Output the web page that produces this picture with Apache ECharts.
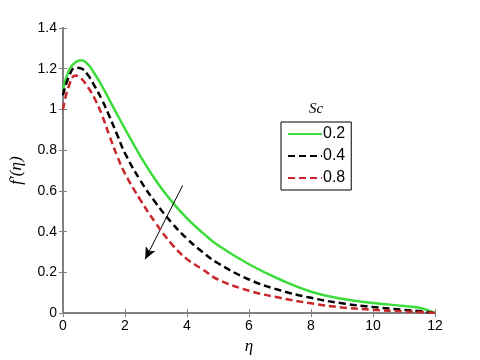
<!DOCTYPE html>
<html>
<head>
<meta charset="utf-8">
<script src="https://cdn.jsdelivr.net/npm/echarts@6/dist/echarts.min.js"></script>
<style>
  html, body { margin: 0; padding: 0; background: #fff; }
  #main { width: 480px; height: 360px; }
</style>
</head>
<body>
<div id="main"></div>
<script>
// eta grid and f'(eta) for each Sc
var eta = [0, 0.2, 0.4, 0.6, 0.8, 1, 1.25, 1.5, 1.75, 2, 2.5, 3, 3.5, 4, 4.5, 5, 6, 7, 8, 9, 10, 11, 11.5, 12];
var sc02 = [1.10, 1.195, 1.232, 1.242, 1.222, 1.18, 1.117, 1.046, 0.975, 0.905, 0.77, 0.65, 0.55, 0.465, 0.395, 0.333, 0.24, 0.165, 0.105, 0.07, 0.05, 0.035, 0.026, 0];
var sc04 = [1.07, 1.165, 1.205, 1.20, 1.17, 1.12, 1.05, 0.965, 0.875, 0.785, 0.65, 0.54, 0.445, 0.365, 0.30, 0.245, 0.165, 0.112, 0.075, 0.048, 0.03, 0.016, 0.01, 0];
var sc08 = [1.0, 1.12, 1.167, 1.15, 1.11, 1.06, 0.975, 0.87, 0.77, 0.685, 0.555, 0.44, 0.34, 0.265, 0.215, 0.165, 0.11, 0.075, 0.048, 0.028, 0.016, 0.008, 0.005, 0];
var scNames = ['0.2', '0.4', '0.8'];
var xTicks = [0, 2, 4, 6, 8, 10, 12];
var yTicks = [0, 0.2, 0.4, 0.6, 0.8, 1, 1.2, 1.4];
// arrow showing increasing Sc
var arrowFrom = [3.86, 0.627];
var arrowTo = [2.65, 0.264];

function pairs(ys) {
    return eta.map(function (x, i) { return [x, ys[i]]; });
}

var axisColor = '#808080';
var labelStyle = { color: '#000', fontFamily: 'Liberation Sans, Arial', fontSize: 14 };

var chart = echarts.init(document.getElementById('main'));
var option = {
    animation: false,
    backgroundColor: '#fff',
    grid: { left: 63, right: 45, top: 28, bottom: 40 },
    legend: {
        orient: 'vertical',
        left: 281,
        top: 122,
        padding: [4, 6, 4, 6],
        itemGap: 6,
        itemWidth: 34,
        itemHeight: 14,
        borderColor: '#000',
        borderWidth: 1,
        backgroundColor: '#fff',
        itemStyle: { opacity: 0 },
        textStyle: { color: '#000', fontFamily: 'Liberation Sans, Arial', fontSize: 16, padding: [0, 4, 0, -4] },
        data: scNames
    },
    graphic: [{
        type: 'text',
        left: 309,
        top: 102,
        style: { text: 'Sc', fill: '#000', font: 'italic 15px "Liberation Serif", "DejaVu Serif", serif' }
    }],
    xAxis: [{
        type: 'value',
        min: 0, max: 12, interval: 2,
        name: 'η',
        nameLocation: 'middle',
        nameGap: 23,
        nameTextStyle: { color: '#000', fontFamily: 'Liberation Serif, serif', fontStyle: 'italic', fontSize: 17 },
        axisLine: { lineStyle: { color: axisColor, width: 2 } },
        axisTick: { inside: true, length: 4, lineStyle: { color: axisColor } },
        axisLabel: Object.assign({ margin: 6, formatter: function (v) { return xTicks.indexOf(v) >= 0 ? String(v) : ''; } }, labelStyle),
        splitLine: { show: false }
    }, {
        type: 'value',
        position: 'top',
        min: 0, max: 12, interval: 2,
        axisLine: { lineStyle: { color: axisColor, width: 2 } },
        axisTick: { inside: true, length: 4, lineStyle: { color: axisColor } },
        axisLabel: { show: false },
        splitLine: { show: false }
    }],
    yAxis: [{
        type: 'value',
        min: 0, max: 1.4, interval: 0.2,
        name: 'f′(η)',
        nameLocation: 'middle',
        nameGap: 38,
        nameTextStyle: { color: '#000', fontFamily: 'Liberation Serif, serif', fontStyle: 'italic', fontSize: 17 },
        axisLine: { lineStyle: { color: axisColor, width: 2 } },
        axisTick: { inside: true, length: 4, lineStyle: { color: axisColor } },
        axisLabel: Object.assign({
            margin: 6,
            formatter: function (v) {
                var t = yTicks.find(function (k) { return Math.abs(k - v) < 1e-9; });
                return t === undefined ? '' : String(t);
            }
        }, labelStyle),
        splitLine: { show: false }
    }, {
        type: 'value',
        position: 'right',
        min: 0, max: 1.4, interval: 0.2,
        axisLine: { lineStyle: { color: axisColor, width: 2 } },
        axisTick: { inside: true, length: 4, lineStyle: { color: axisColor } },
        axisLabel: { show: false },
        splitLine: { show: false }
    }],
    series: [{
        name: scNames[0],
        type: 'line',
        smooth: 0.45,
        symbol: 'none',
        data: pairs(sc02),
        lineStyle: { color: '#3ddc3d', width: 2.5, type: 'solid' },
        itemStyle: { color: '#3ddc3d' },
        z: 3,
        markLine: {
            silent: true,
            symbol: ['none', 'arrow'],
            symbolSize: [8, 12],
            label: { show: false },
            lineStyle: { color: '#000', width: 1, type: 'solid' },
            data: [[{ coord: arrowFrom }, { coord: arrowTo }]]
        }
    }, {
        name: scNames[1],
        type: 'line',
        smooth: 0.45,
        symbol: 'none',
        data: pairs(sc04),
        lineStyle: { color: '#000', width: 2.5, type: [7, 4] },
        itemStyle: { color: '#000' },
        z: 4
    }, {
        name: scNames[2],
        type: 'line',
        smooth: 0.45,
        symbol: 'none',
        data: pairs(sc08),
        lineStyle: { color: '#c8262a', width: 2.5, type: [7, 4] },
        itemStyle: { color: '#c8262a' },
        z: 5
    }]
};
chart.setOption(option);
window.addEventListener('resize', chart.resize);
</script>
</body>
</html>
